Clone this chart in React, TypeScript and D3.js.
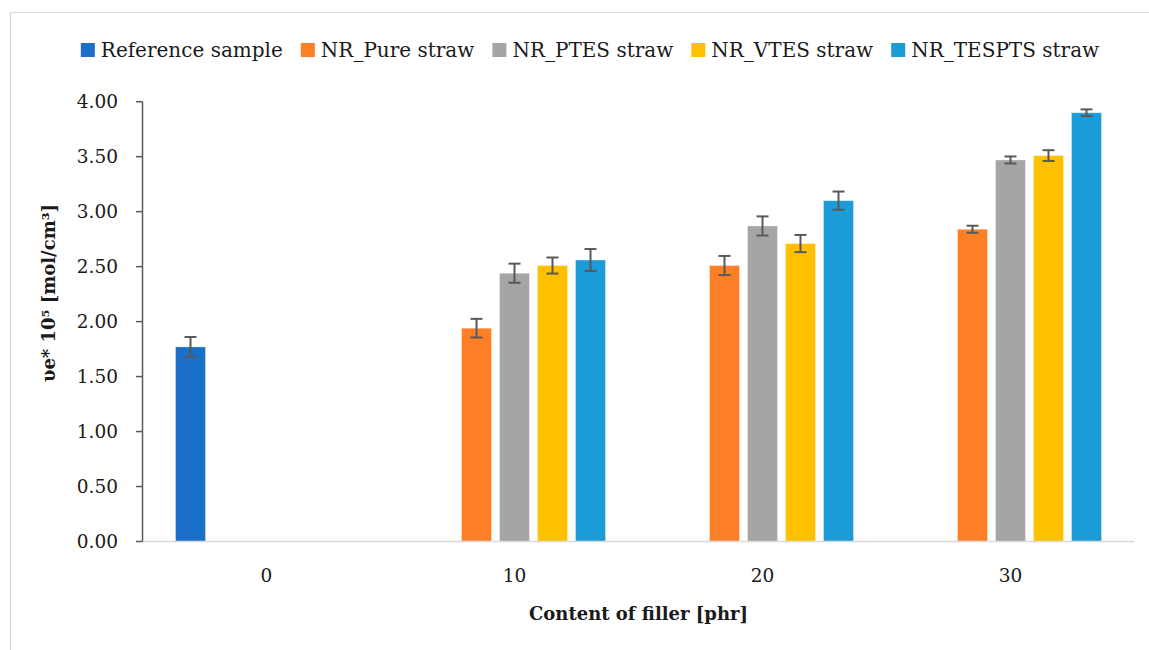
import React, { useEffect, useRef } from "react";
import * as d3 from "d3";

const categories = ["0", "10", "20", "30"];
const seriesNames = ["Reference sample", "NR_Pure straw", "NR_PTES straw", "NR_VTES straw", "NR_TESPTS straw"];
const seriesColors = ["#1a70c8", "#ff7f27", "#a5a5a5", "#ffc000", "#1b9bd7"];
const refValues = [1.77, null, null, null];
const pureValues = [null, 1.94, 2.51, 2.84];
const ptesValues = [null, 2.44, 2.87, 3.47];
const vtesValues = [null, 2.51, 2.71, 3.51];
const tesptsValues = [null, 2.56, 3.10, 3.90];
const refErr = [0.09, null, null, null];
const pureErr = [null, 0.085, 0.087, 0.032];
const ptesErr = [null, 0.087, 0.087, 0.032];
const vtesErr = [null, 0.073, 0.078, 0.049];
const tesptsErr = [null, 0.1, 0.083, 0.03];
const yTicks = [0, 0.5, 1, 1.5, 2, 2.5, 3, 3.5, 4];

const W = 1149;
const H = 650;
const FONT = "'DejaVu Serif', 'Liberation Serif', serif";

export default function App() {
  const ref = useRef<SVGSVGElement | null>(null);

  useEffect(() => {
    const svg = d3.select(ref.current);
    svg.selectAll("*").remove();

    const values = [refValues, pureValues, ptesValues, vtesValues, tesptsValues];
    const errs = [refErr, pureErr, ptesErr, vtesErr, tesptsErr];

    const left = 142.5, right = 1134.5, top = 101.7, bottom = 541.5;

    // frame
    svg.append("path").attr("d", `M10.5,${H} L10.5,12.5 L${W},12.5`).attr("fill", "none").attr("stroke", "#d9d9d9").attr("stroke-width", 1.2);

    const x0 = d3.scaleBand<string>().domain(categories).range([left, right]).paddingInner(58 / 248).paddingOuter(29 / 248);
    const x1 = d3.scaleBand<string>().domain(seriesNames).range([0, x0.bandwidth()]).paddingInner(8 / 38).paddingOuter(4 / 38);
    const y = d3.scaleLinear().domain([0, 4]).range([bottom, top]);

    // bars
    const g = svg.append("g");
    seriesNames.forEach((s, si) => {
      categories.forEach((c, ci) => {
        const v = values[si][ci];
        if (v == null) return;
        const bx = (x0(c) as number) + (x1(s) as number);
        g.append("rect")
          .attr("x", bx).attr("y", y(v)).attr("width", x1.bandwidth()).attr("height", y(0) - y(v))
          .attr("fill", seriesColors[si]).attr("stroke", "#ffffff").attr("stroke-opacity", 0.35).attr("stroke-width", 1);
      });
    });

    // x axis line
    svg.append("line").attr("x1", left).attr("x2", right).attr("y1", bottom).attr("y2", bottom).attr("stroke", "#d9d9d9").attr("stroke-width", 1.5);

    // error bars
    seriesNames.forEach((s, si) => {
      categories.forEach((c, ci) => {
        const v = values[si][ci];
        const e = errs[si][ci];
        if (v == null || e == null) return;
        const cx = (x0(c) as number) + (x1(s) as number) + x1.bandwidth() / 2;
        const eg = svg.append("g").attr("stroke", "#595959").attr("stroke-width", 2);
        eg.append("line").attr("x1", cx).attr("x2", cx).attr("y1", y(v + e)).attr("y2", y(v - e));
        eg.append("line").attr("x1", cx - 6).attr("x2", cx + 6).attr("y1", y(v + e)).attr("y2", y(v + e));
        eg.append("line").attr("x1", cx - 6).attr("x2", cx + 6).attr("y1", y(v - e)).attr("y2", y(v - e));
      });
    });

    // y axis
    svg.append("line").attr("x1", left).attr("x2", left).attr("y1", top).attr("y2", bottom).attr("stroke", "#595959").attr("stroke-width", 1.5);
    yTicks.forEach((t) => {
      svg.append("line").attr("x1", left - 6.5).attr("x2", left).attr("y1", y(t)).attr("y2", y(t)).attr("stroke", "#595959").attr("stroke-width", 1.5);
      svg.append("text").attr("x", 118).attr("y", y(t)).attr("dy", "0.36em").attr("text-anchor", "end")
        .attr("font-family", FONT).attr("font-size", 18.5).attr("fill", "#1a1a1a").text(d3.format(".2f")(t));
    });

    // x labels
    categories.forEach((c) => {
      svg.append("text").attr("x", (x0(c) as number) + x0.bandwidth() / 2).attr("y", 582).attr("text-anchor", "middle")
        .attr("font-family", FONT).attr("font-size", 18.5).attr("fill", "#1a1a1a").text(c);
    });

    // axis titles
    svg.append("text").attr("x", (left + right) / 2).attr("y", 620).attr("text-anchor", "middle")
      .attr("font-family", FONT).attr("font-size", 18).attr("font-weight", "bold").attr("fill", "#1a1a1a").text("Content of filler [phr]");
    svg.append("text").attr("transform", `translate(55,293) rotate(-90)`).attr("text-anchor", "middle")
      .attr("font-family", FONT).attr("font-size", 18).attr("font-weight", "bold").attr("fill", "#1a1a1a").text("υe* 10⁵ [mol/cm³]");

    // legend
    const lg = svg.append("g");
    const items: { g: any; w: number }[] = [];
    seriesNames.forEach((s, si) => {
      const ig = lg.append("g");
      ig.append("rect").attr("x", 0).attr("y", 43).attr("width", 14).attr("height", 14).attr("fill", seriesColors[si]);
      const t = ig.append("text").attr("x", 20).attr("y", 57).attr("font-family", FONT).attr("font-size", 20).attr("fill", "#1a1a1a").text(s);
      const tw = (t.node() as SVGTextElement).getComputedTextLength();
      items.push({ g: ig, w: 20 + tw });
    });
    const gap = 18;
    const total = items.reduce((a, b) => a + b.w, 0) + gap * (items.length - 1);
    let cx = 590 - total / 2;
    items.forEach((it) => {
      it.g.attr("transform", `translate(${cx},0)`);
      cx += it.w + gap;
    });
  }, []);

  return (
    <svg ref={ref} width={W} height={H} style={{ position: "absolute", left: 0, top: 0, background: "#fff" }} />
  );
}
